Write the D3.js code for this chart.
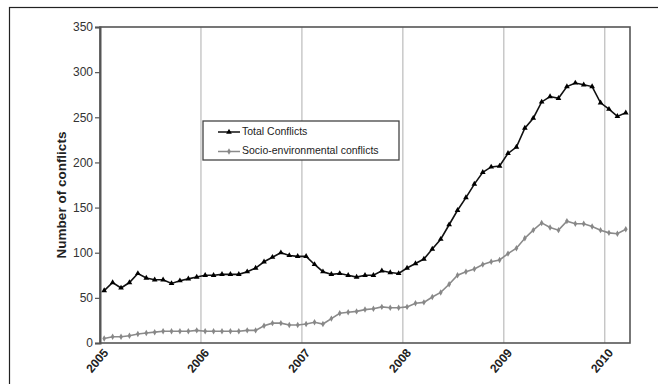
<!DOCTYPE html>
<html><head><meta charset="utf-8">
<script src="https://cdn.jsdelivr.net/npm/d3@7"></script>
<style>
html,body{margin:0;padding:0;background:#fff;}
svg{display:block;font-family:"Liberation Sans",Arial,sans-serif;}
</style></head>
<body>
<svg id="chart" width="658" height="384"></svg>
<script>
// Monthly data, Jan 2005 - Mar 2010
const startYear = 2005;
const totalConflicts = [58, 67, 61, 67, 77, 72, 70, 70, 66, 69, 71, 73,
  75, 75, 76, 76, 76, 79, 83, 90, 95, 100, 97, 96,
  96, 87, 79, 76, 77, 75, 73, 75, 75, 80, 78, 77,
  83, 88, 93, 104, 115, 131, 147, 161, 176, 189, 195, 196,
  210, 217, 238, 249, 267, 273, 271, 284, 288, 286, 284, 266,
  259, 251, 255];
const socioConflicts = [5, 7, 7, 8, 10, 11, 12, 13, 13, 13, 13, 14,
  13, 13, 13, 13, 13, 14, 14, 19, 22, 22, 20, 20,
  21, 23, 21, 27, 33, 34, 35, 37, 38, 40, 39, 39,
  40, 44, 45, 51, 56, 65, 75, 79, 82, 87, 90, 92,
  99, 105, 116, 125, 133, 128, 125, 135, 132, 132, 129, 125,
  122, 121, 126];
const yearTicks = [2005, 2006, 2007, 2008, 2009, 2010];
const yTicks = [0, 50, 100, 150, 200, 250, 300, 350];
const seriesNames = ["Total Conflicts", "Socio-environmental conflicts"];
const yLabel = "Number of conflicts";

const svg = d3.select("#chart");
const L = 100, R = 630, T = 27, B = 343;
const x = d3.scaleLinear().domain([2005, 2010.25]).range([L, R]);
const y = d3.scaleLinear().domain([0, 350]).range([B, T]);
const monthPos = i => startYear + (i + 0.5) / 12;

// outer border
svg.append("rect").attr("x", 9.5).attr("y", 7.5).attr("width", 700).attr("height", 400)
  .attr("fill", "none").attr("stroke", "#222").attr("stroke-width", 1.2);

// gridlines
svg.append("g").selectAll("line").data(yearTicks.slice(1)).join("line")
  .attr("x1", d => x(d)).attr("x2", d => x(d)).attr("y1", T).attr("y2", B)
  .attr("stroke", "#bbb").attr("stroke-width", 1.2);

// frame
svg.append("rect").attr("x", L).attr("y", T).attr("width", R - L).attr("height", B - T)
  .attr("fill", "none").attr("stroke", "#555").attr("stroke-width", 1.6);

// y axis
const yAxis = d3.axisLeft(y).tickValues(yTicks).tickSize(5).tickPadding(2);
const gy = svg.append("g").attr("transform", `translate(${L},0)`).call(yAxis);
gy.select(".domain").attr("stroke", "#555").attr("stroke-width", 2);
gy.selectAll(".tick line").attr("stroke", "#555").attr("stroke-width", 1.2);
gy.selectAll(".tick text").attr("font-size", 12).attr("fill", "#333")
  .attr("font-family", "Liberation Sans, Arial, sans-serif");

// x axis
const xAxis = d3.axisBottom(x).tickValues(yearTicks).tickSize(0).tickFormat(d3.format("d"));
const gx = svg.append("g").attr("transform", `translate(0,${B})`).call(xAxis);
gx.select(".domain").remove();
gx.selectAll(".tick text").attr("font-size", 12).attr("font-weight", "bold").attr("fill", "#222")
  .attr("font-family", "Liberation Sans, Arial, sans-serif")
  .attr("text-anchor", "end").attr("dy", null).attr("y", 0)
  .attr("transform", "translate(6,8) rotate(-50)")
  .attr("dominant-baseline", "middle");

// y label
svg.append("text").attr("transform", `translate(62,${(T + B) / 2 + 10}) rotate(-90)`)
  .attr("text-anchor", "middle").attr("dominant-baseline", "middle")
  .attr("font-size", 13.5).attr("font-weight", "bold").attr("fill", "#222")
  .text(yLabel);

// lines
const line = d3.line().x((d, i) => x(monthPos(i))).y(d => y(d));
svg.append("path").datum(socioConflicts).attr("d", line)
  .attr("fill", "none").attr("stroke", "#8a8a8a").attr("stroke-width", 1.6);
svg.append("path").datum(totalConflicts).attr("d", line)
  .attr("fill", "none").attr("stroke", "#111").attr("stroke-width", 1.6);

const tri = d3.symbol().type(d3.symbolTriangle).size(14);
const dia = d3.symbol().type(d3.symbolDiamond).size(12);

svg.append("g").selectAll("path").data(socioConflicts).join("path")
  .attr("d", dia).attr("transform", (d, i) => `translate(${x(monthPos(i))},${y(d)})`)
  .attr("fill", "#888");
svg.append("g").selectAll("path").data(totalConflicts).join("path")
  .attr("d", tri).attr("transform", (d, i) => `translate(${x(monthPos(i))},${y(d)})`)
  .attr("fill", "#000");

// legend
const lg = svg.append("g");
lg.append("rect").attr("x", 203).attr("y", 121).attr("width", 196).attr("height", 39)
  .attr("fill", "#fff").attr("stroke", "#444").attr("stroke-width", 1.3);
const rows = [{name: seriesNames[0], color: "#111", sym: tri, mc: "#000", yy: 132},
              {name: seriesNames[1], color: "#8a8a8a", sym: dia, mc: "#888", yy: 151.5}];
rows.forEach(r => {
  lg.append("line").attr("x1", 218).attr("x2", 240).attr("y1", r.yy).attr("y2", r.yy)
    .attr("stroke", r.color).attr("stroke-width", 1.5);
  lg.append("path").attr("d", r.sym).attr("transform", `translate(229,${r.yy})`).attr("fill", r.mc);
  lg.append("text").attr("x", 242).attr("y", r.yy).attr("dominant-baseline", "middle")
    .attr("font-size", 10.5).attr("fill", "#222").text(r.name);
});
</script>
</body></html>
